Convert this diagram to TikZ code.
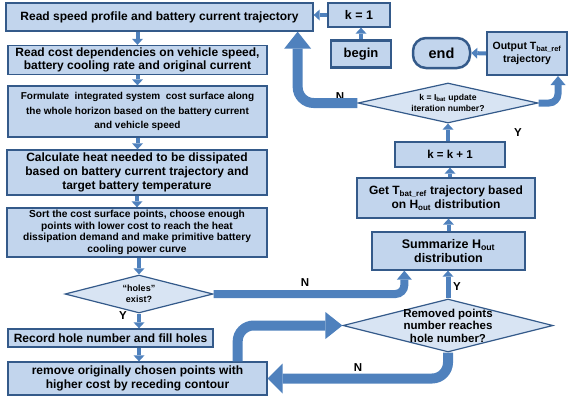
\documentclass[tikz,border=0pt]{standalone}
\usepackage{fontspec}
\setmainfont{Liberation Sans}
\usetikzlibrary{arrows.meta,shapes.geometric}

\definecolor{arrowblue}{RGB}{79,129,189}
\definecolor{boxfill}{RGB}{194,213,237}
\definecolor{diafill}{RGB}{216,228,243}
\definecolor{boxline}{RGB}{52,90,138}

\tikzset{
  box/.style={rectangle,draw=boxline,fill=boxfill,line width=1.3pt,inner sep=1pt,align=center,font=\bfseries\fontsize{12}{14}\selectfont},
  dia/.style={diamond,draw=boxline,fill=diafill,line width=1.2pt,inner sep=0pt},
  lab/.style={align=center,inner sep=0pt,font=\bfseries\fontsize{9}{11}\selectfont},
  lbl/.style={font=\bfseries\fontsize{11.5}{13}\selectfont,inner sep=0pt},
  flow/.style={draw=arrowblue,line width=4pt,-{Triangle[length=6pt,width=11pt,line width=0pt]}},
  midflow/.style={draw=arrowblue,line width=7pt,rounded corners=9pt,-{Triangle[length=9pt,width=15pt,line width=0pt]}},
  bigflow/.style={draw=arrowblue,line width=10pt,rounded corners=16pt,-{Triangle[length=17pt,width=27pt,line width=0pt]}}
}

\begin{document}
\begin{tikzpicture}[x=1pt,y=-1pt]
  \useasboundingbox (0,0) rectangle (581,402);

  % left column
  \node[box,minimum width=307,minimum height=28] (read) at (159.5,17) {Read speed profile and battery current trajectory};
  \node[box,minimum width=259,minimum height=29,font=\bfseries\fontsize{12}{13.5}\selectfont] (cost) at (137.5,60) {Read cost dependencies on vehicle speed,\\battery cooling rate and original current};
  \node[box,minimum width=259,minimum height=51,font=\bfseries\fontsize{10}{14.5}\selectfont] (form) at (137.5,111.5) {Formulate\ \ integrated system\ \ cost surface along\\the whole horizon based on the battery current\\and vehicle speed};
  \node[box,minimum width=260,minimum height=45,font=\bfseries\fontsize{12}{14}\selectfont] (heat) at (137,172.5) {Calculate heat needed to be dissipated\\based on battery current trajectory and\\target battery temperature};
  \node[box,minimum width=260,minimum height=49,font=\bfseries\fontsize{10.2}{11.5}\selectfont] (sort) at (137,232.5) {Sort the cost surface points, choose enough\\points with lower cost to reach the heat\\dissipation demand and make primitive battery\\cooling power curve};
  \node[dia,minimum width=148,minimum height=38,label={[lab]center:{“holes”\\exist?}}] (holes) at (139,294) {};
  \node[box,minimum width=205,minimum height=18] (rec) at (110.5,338) {Record hole number and fill holes};
  \node[box,minimum width=259,minimum height=33,font=\bfseries\fontsize{12}{14}\selectfont] (remove) at (137.5,378.5) {remove originally chosen points with\\higher cost by receding contour};

  % right column
  \node[box,minimum width=62,minimum height=24,font=\bfseries\fontsize{12.5}{14}\selectfont] (kone) at (359,15) {k = 1};
  \node[box,line width=2.5pt,minimum width=60,minimum height=27,font=\bfseries\fontsize{13}{15}\selectfont] (begin) at (361,54) {begin};
  \node[box,line width=2.5pt,rounded corners=13pt,minimum width=57,minimum height=30,font=\bfseries\fontsize{14.5}{16}\selectfont] (end) at (441.5,53) {end};
  \node[box,line width=2pt,minimum width=80,minimum height=43,font=\bfseries\fontsize{10.5}{13}\selectfont] (output) at (527,53.5) {Output T\textsubscript{bat\_ref}\\trajectory};
  \node[dia,minimum width=180,minimum height=40,label={[lab,font=\bfseries\fontsize{8.6}{11}\selectfont]center:{k = I\textsubscript{bat} update\\iteration number?}}] (kdia) at (448,103) {};
  \node[box,minimum width=110,minimum height=25,font=\bfseries\fontsize{11.5}{13}\selectfont] (kinc) at (450,154.5) {k = k + 1};
  \node[box,minimum width=178,minimum height=40,font=\bfseries\fontsize{12}{14}\selectfont] (gett) at (446,198) {Get T\textsubscript{bat\_ref} trajectory based\\on H\textsubscript{out} distribution};
  \node[box,minimum width=153,minimum height=38,font=\bfseries\fontsize{12.5}{14}\selectfont] (summ) at (448.5,251) {Summarize H\textsubscript{out}\\distribution};
  \node[dia,minimum width=210,minimum height=53,label={[lab,font=\bfseries\fontsize{11.5}{12.5}\selectfont]center:{Removed points\\number reaches\\hole number?}}] (rem) at (448,325.5) {};

  % Y and N marks
  \node[lbl] (nk) at (340,97) {N};
  \node[lbl] (yk) at (518,133) {Y};
  \node[lbl] (nholes) at (305,283) {N};
  \node[lbl] (yholes) at (123,316) {Y};
  \node[lbl] (yrem) at (457,287) {Y};
  \node[lbl] (nrem) at (358,368) {N};

  % straight steps
  \draw[flow] (read.south -| cost.north) -- (cost.north);
  \draw[flow] (cost.south) -- (form.north);
  \draw[flow] (form.south) -- (heat.north -| form.south);
  \draw[flow] (heat.south) -- (sort.north);
  \draw[flow] (sort.south -| holes.north) -- (holes.north);
  \draw[flow] (holes.south) -- (holes.south |- rec.north);
  \draw[flow] (rec.south -| holes.south) -- (remove.north -| holes.south);
  \draw[flow] (kone.west) -- (read.east |- kone.west);
  \draw[flow] (begin.north) -- (begin.north |- kone.south);
  \draw[flow] (output.west) -- (end.east);
  \draw[flow] (kinc.north -| kdia.south) -- (kdia.south);
  \draw[flow] (gett.north -| kinc.south) -- (kinc.south);
  \draw[flow] (summ.north) -- (gett.south -| summ.north);
  \draw[flow,line width=5pt] (rem.north) -- (rem.north |- summ.south);

  % loops
  \draw[bigflow] (kdia.west) -| ([xshift=-16pt]read.south east); % back to start
  \draw[midflow] (kdia.east) -| ([xshift=-10pt]output.south east); % done
  \draw[midflow,line width=8pt] (holes.east) -| ([xshift=33pt]summ.south west); % no holes
  \draw[bigflow] ([xshift=-30pt]remove.north east) |- (rem.west); % check count
  \draw[bigflow,-{Triangle[length=15pt,width=30pt,line width=0pt]}] (rem.south) |- (remove.east); % remove more
\end{tikzpicture}
\end{document}
